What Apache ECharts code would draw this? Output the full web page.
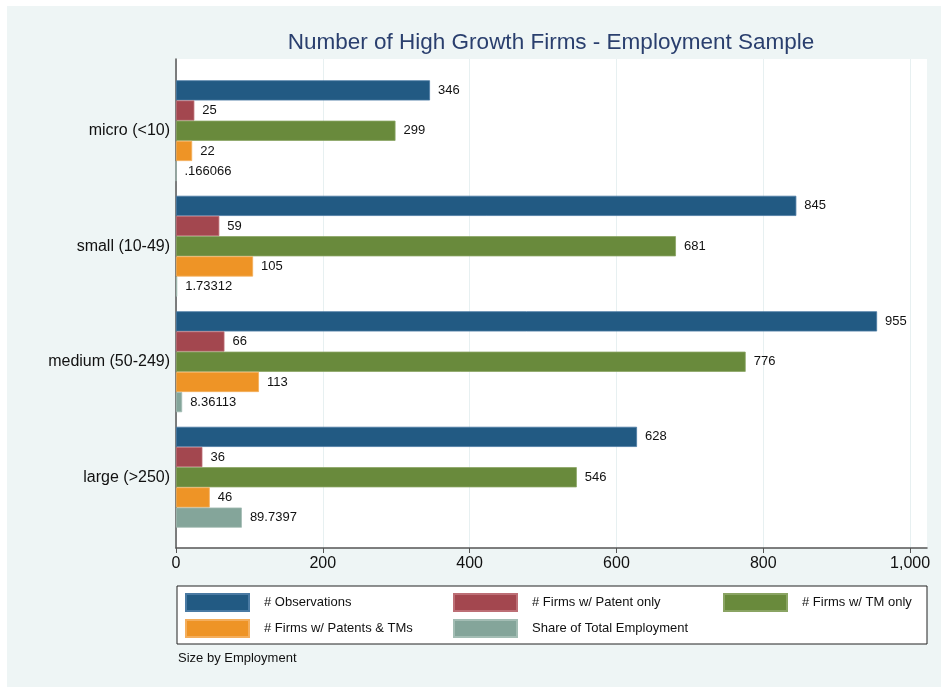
<!DOCTYPE html>
<html>
<head>
<meta charset="utf-8">
<script src="https://cdn.jsdelivr.net/npm/echarts@6/dist/echarts.min.js"></script>
<style>
html,body{margin:0;padding:0;}
body{background:#fff;}
#chart{width:941px;height:687px;
background: linear-gradient(#fff,#fff) top left/100% 6px no-repeat, linear-gradient(#fff,#fff) top left/7px 100% no-repeat, #eef5f5;}
</style>
</head>
<body>
<div id="chart"></div>
<script>
const categories = ['micro (<10)', 'small (10-49)', 'medium (50-249)', 'large (>250)'];
const observations = [346, 845, 955, 628];
const patentOnly = [25, 59, 66, 36];
const tmOnly = [299, 681, 776, 546];
const patentsAndTMs = [22, 105, 113, 46];
const shareEmployment = [0.166066, 1.73312, 8.36113, 89.7397];
const xTicks = [0, 200, 400, 600, 800, 1000];

const FONT = '"Liberation Sans", Arial, Helvetica, sans-serif';
const chart = echarts.init(document.getElementById('chart'), null, {renderer: 'canvas'});

function stataFmt(v) {
  return String(v).replace(/^0\./, '.');
}

const seriesDefs = [
  {name: '# Observations', data: observations, color: '#225a83', border: '#4a7aa3'},
  {name: '# Firms w/ Patent only', data: patentOnly, color: '#a3474f', border: '#bd6f76'},
  {name: '# Firms w/ TM only', data: tmOnly, color: '#698a3c', border: '#8aa463'},
  {name: '# Firms w/ Patents & TMs', data: patentsAndTMs, color: '#ee9426', border: '#f4ae5c'},
  {name: 'Share of Total Employment', data: shareEmployment, color: '#84a59a', border: '#a3bdb4'}
];

const legendPos = [[185, 593], [453, 593], [723, 593], [185, 619], [453, 619]];

const option = {
  backgroundColor: 'transparent',
  animation: false,
  textStyle: {fontFamily: FONT},
  grid: [
    {left: 176, right: 14, top: 59, bottom: 139, show: true, backgroundColor: '#ffffff', borderWidth: 0},
    {left: 176, right: 14, top: 73, bottom: 152}
  ],
  xAxis: [
    {
      gridIndex: 0, type: 'value', min: 0, max: 1023, interval: 200,
      axisLine: {show: true, onZero: false, lineStyle: {color: '#555', width: 1.5}},
      axisTick: {show: true, length: 5, customValues: xTicks, lineStyle: {color: '#555', width: 1}},
      axisLabel: {customValues: xTicks, fontSize: 16, color: '#111', margin: 8, fontFamily: FONT,
        formatter: v => v >= 1000 ? (Math.floor(v/1000) + ',' + String(v % 1000).padStart(3, '0')) : String(v)},
      splitLine: {show: true, lineStyle: {color: '#e7f0f1', width: 1}}
    },
    {gridIndex: 1, type: 'value', min: 0, max: 1023, show: false}
  ],
  yAxis: [
    {
      gridIndex: 0, type: 'value', min: 0, max: 1, position: 'left',
      axisLine: {show: true, onZero: false, lineStyle: {color: '#555', width: 1.5}},
      axisTick: {show: false}, axisLabel: {show: false}, splitLine: {show: false}
    },
    {
      gridIndex: 1, type: 'category', data: categories, inverse: true,
      axisLine: {show: false}, axisTick: {show: false},
      axisLabel: {fontSize: 16, color: '#111', margin: 6, fontFamily: FONT}
    }
  ],
  legend: legendPos.map((p, i) => ({
    left: p[0], top: p[1], padding: 0, orient: 'horizontal',
    data: [seriesDefs[i].name], icon: 'rect', itemWidth: 63, itemHeight: 17,
    selectedMode: false,
    textStyle: {fontSize: 13, color: '#111', fontFamily: FONT, padding: [0, 0, 0, 10]}
  })),
  series: seriesDefs.map(s => ({
    name: s.name, type: 'bar', xAxisIndex: 1, yAxisIndex: 1,
    data: s.data, barGap: '0%', barCategoryGap: '12.6%',
    itemStyle: {color: s.color, borderColor: s.border, borderWidth: 0.8},
    label: {show: true, position: 'right', distance: 8, color: '#111', fontSize: 13, fontFamily: FONT,
      formatter: p => stataFmt(p.value)}
  })),
  graphic: [
    {type: 'rect', shape: {x: 177, y: 586, width: 750, height: 58}, style: {fill: '#fff', stroke: '#222', lineWidth: 1}, z: -1},
    {type: 'text', x: 551, y: 43, style: {text: 'Number of High Growth Firms - Employment Sample', fontSize: 22.5, fontFamily: FONT, fill: '#2a3f6e', textAlign: 'center', textVerticalAlign: 'middle'}},
    {type: 'text', x: 178, y: 658, style: {text: 'Size by Employment', fontSize: 13, fontFamily: FONT, fill: '#111', textAlign: 'left', textVerticalAlign: 'middle'}}
  ]
};
chart.setOption(option);
</script>
</body>
</html>
